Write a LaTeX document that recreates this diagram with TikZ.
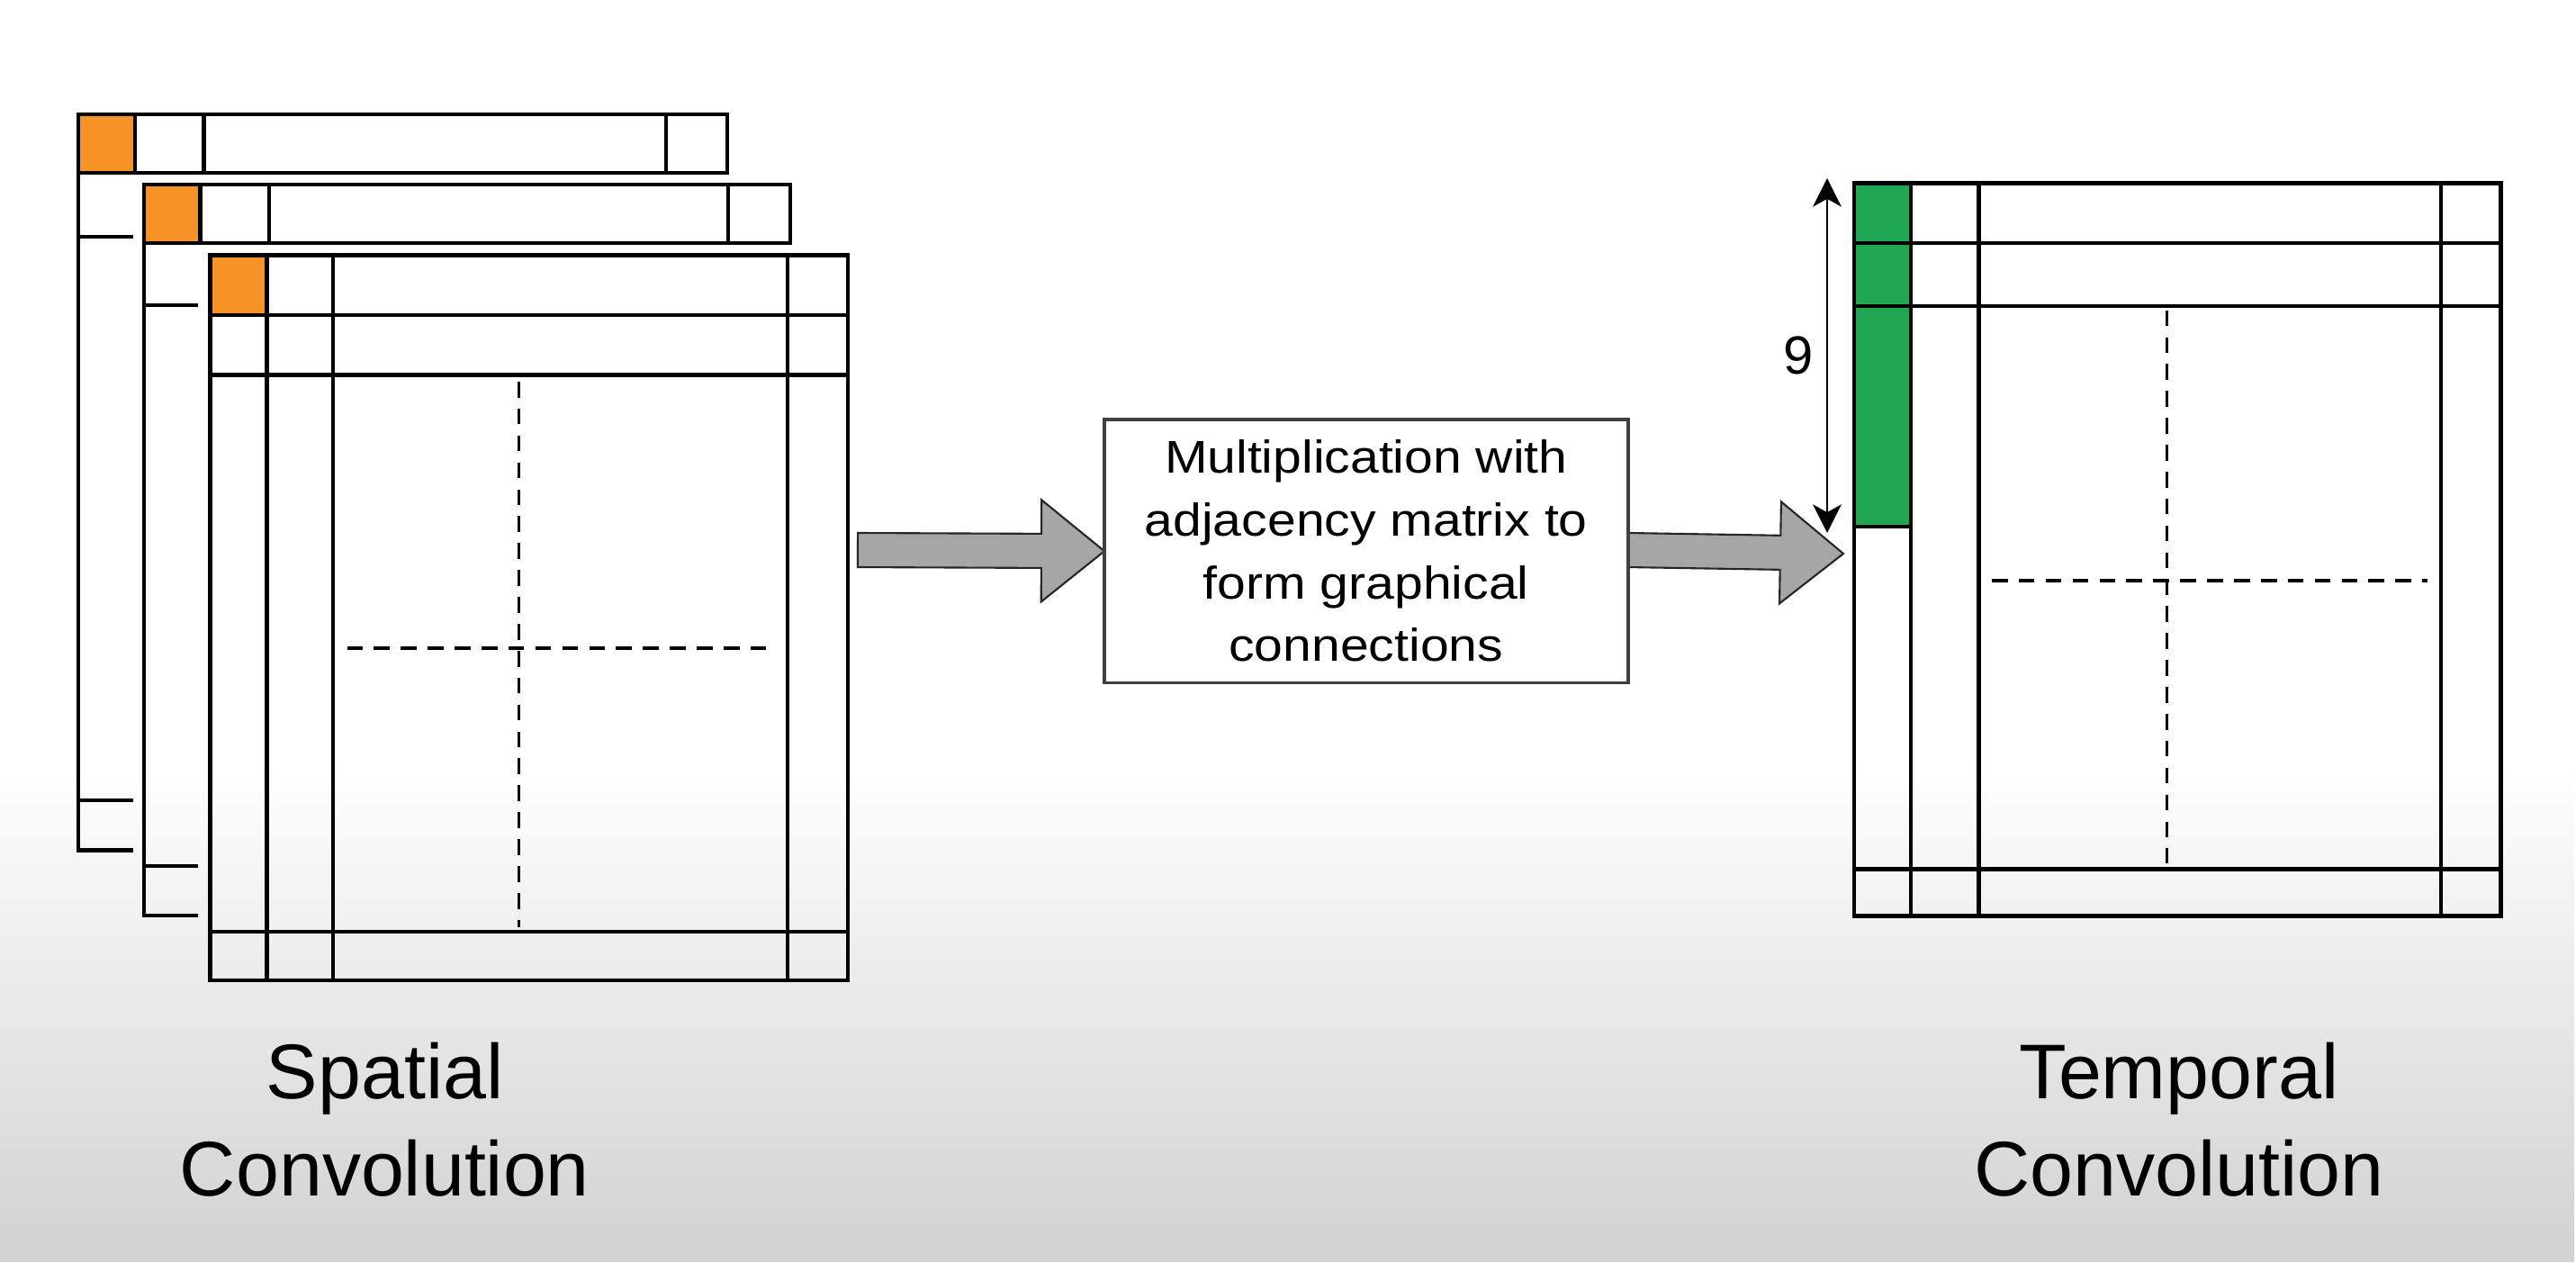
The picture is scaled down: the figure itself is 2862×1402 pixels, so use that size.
\documentclass[tikz,border=0pt]{standalone}
\usepackage{fontspec}
\setmainfont{Liberation Sans}
\newfontfamily\boxfont[FakeStretch=1.12]{Liberation Sans}
\usetikzlibrary{calc,arrows.meta,fadings}
\definecolor{cellorange}{RGB}{247,147,38}
\definecolor{cellgreen}{RGB}{33,166,84}
\definecolor{arrowgray}{RGB}{166,166,166}
\tikzfading[name=bottomgrad, top color=transparent!100, bottom color=transparent!0]
\tikzset{
  mline/.style={line width=1.35pt, black},
  dashgrid/.style={line width=1pt, dash pattern=on 5pt off 3.5pt},
  barrow/.style={fill=arrowgray, draw=black!85, line width=0.6pt, line join=miter},
  dimline/.style={line width=0.6pt, {Stealth[length=9pt,width=9pt,inset=2.5pt]}-{Stealth[length=9pt,width=9pt,inset=2.5pt]}},
  opbox/.style={draw=black!75, line width=1pt, fill=white, minimum width=5.816cm, minimum height=2.923cm, inner sep=0pt, align=center, font=\boxfont\fontsize{14.5}{19.8}\selectfont},
  capt/.style={align=center, anchor=base, font=\fontsize{24.5}{30.7}\selectfont, inner sep=0pt},
}
\newcommand\blockarrow[2]{%
  \coordinate (bah) at ($(#2)!0.7cm!(#1)$);
  \draw[barrow] ($(#1)!0.19cm!90:(#2)$) -- ($(bah)!0.19cm!90:(#2)$) -- ($(bah)!0.565cm!90:(#2)$) -- (#2)
     -- ($(bah)!0.565cm!-90:(#2)$) -- ($(bah)!0.19cm!-90:(#2)$) -- ($(#1)!0.19cm!-90:(#2)$) -- cycle;
}
\begin{document}
\begin{tikzpicture}[x=0.01cm,y=-0.01cm]
\useasboundingbox (0,0) rectangle (2862,1402);
\fill[white] (0,0) rectangle (2862,1402);

% back matrix 1
\fill[white] (87,127) rectangle (808,944.5);
\fill[cellorange] (87,127) rectangle (150,192);
\draw[mline] (87,127) rectangle (808,192);
\draw[mline] (150,127) -- (150,192) (226.5,127) -- (226.5,192) (740,127) -- (740,192);
\draw[mline] (87,192) -- (87,944.5) -- (148,944.5);
\draw[mline] (87,263) -- (148,263) (87,889) -- (148,889);

% back matrix 2
\fill[white] (160,205) rectangle (878,1017);
\fill[cellorange] (160,205) rectangle (222.5,270);
\draw[mline] (160,205) rectangle (878,270);
\draw[mline] (222.5,205) -- (222.5,270) (299,205) -- (299,270) (809,205) -- (809,270);
\draw[mline] (160,270) -- (160,1017) -- (220,1017);
\draw[mline] (160,339) -- (220,339) (160,962) -- (220,962);

% front matrix 3
\fill[white] (233.3,283.3) rectangle (942,1089);
\fill[cellorange] (233.3,283.3) rectangle (296.7,350);
\draw[mline] (233.3,283.3) rectangle (942,1089);
\draw[mline] (233.3,350) -- (942,350) (233.3,416.7) -- (942,416.7) (233.3,1035) -- (942,1035);
\draw[mline] (296.7,283.3) -- (296.7,1089) (370,283.3) -- (370,1089) (875,283.3) -- (875,1089);
\draw[dashgrid] (576.6,424) -- (576.6,1030) (385.5,720) -- (863.6,720);

% temporal matrix
\fill[white] (2060,203.5) rectangle (2778.3,1017.6);
\fill[cellgreen] (2060,203.5) rectangle (2123,585);
\draw[mline] (2060,203.5) rectangle (2778.3,1017.6);
\draw[mline] (2060,270) -- (2778.3,270) (2060,340) -- (2778.3,340) (2060,965.5) -- (2778.3,965.5);
\draw[mline] (2123,203.5) -- (2123,1017.6) (2198.3,203.5) -- (2198.3,1017.6) (2712,203.5) -- (2712,1017.6);
\draw[mline] (2060,585) -- (2123,585);
\draw[dashgrid] (2407.7,344.6) -- (2407.7,959) (2213,645) -- (2697,645);

% operation box and block arrows
\coordinate (a1s) at (953,611);
\coordinate (a2t) at (2048,615);
\coordinate (boxw) at (1227,612.2);
\coordinate (boxe) at (1808.6,611);
\blockarrow{a1s}{boxw}
\blockarrow{boxe}{a2t}
\node[opbox] (op) at (1517.8,612.2) {Multiplication with\\adjacency matrix to\\form graphical\\connections};

% dimension arrow
\coordinate (dtop) at (2030,198);
\coordinate (dbot) at (2030,592);
\draw[dimline] (dtop) -- node[left, inner sep=4pt, font=\fontsize{17}{20}\selectfont] (nine) {9} (dbot);

% captions (base anchor = last line)
\node[capt] (spatial) at (427.5,1328) {Spatial\\Convolution};
\node[capt] (temporal) at (2421,1328) {Temporal\\Convolution};

% soft gray gradient over the lower part
\fill[black, opacity=0.18, path fading=bottomgrad] (0,850) rectangle (2862,1402);
\end{tikzpicture}
\end{document}
